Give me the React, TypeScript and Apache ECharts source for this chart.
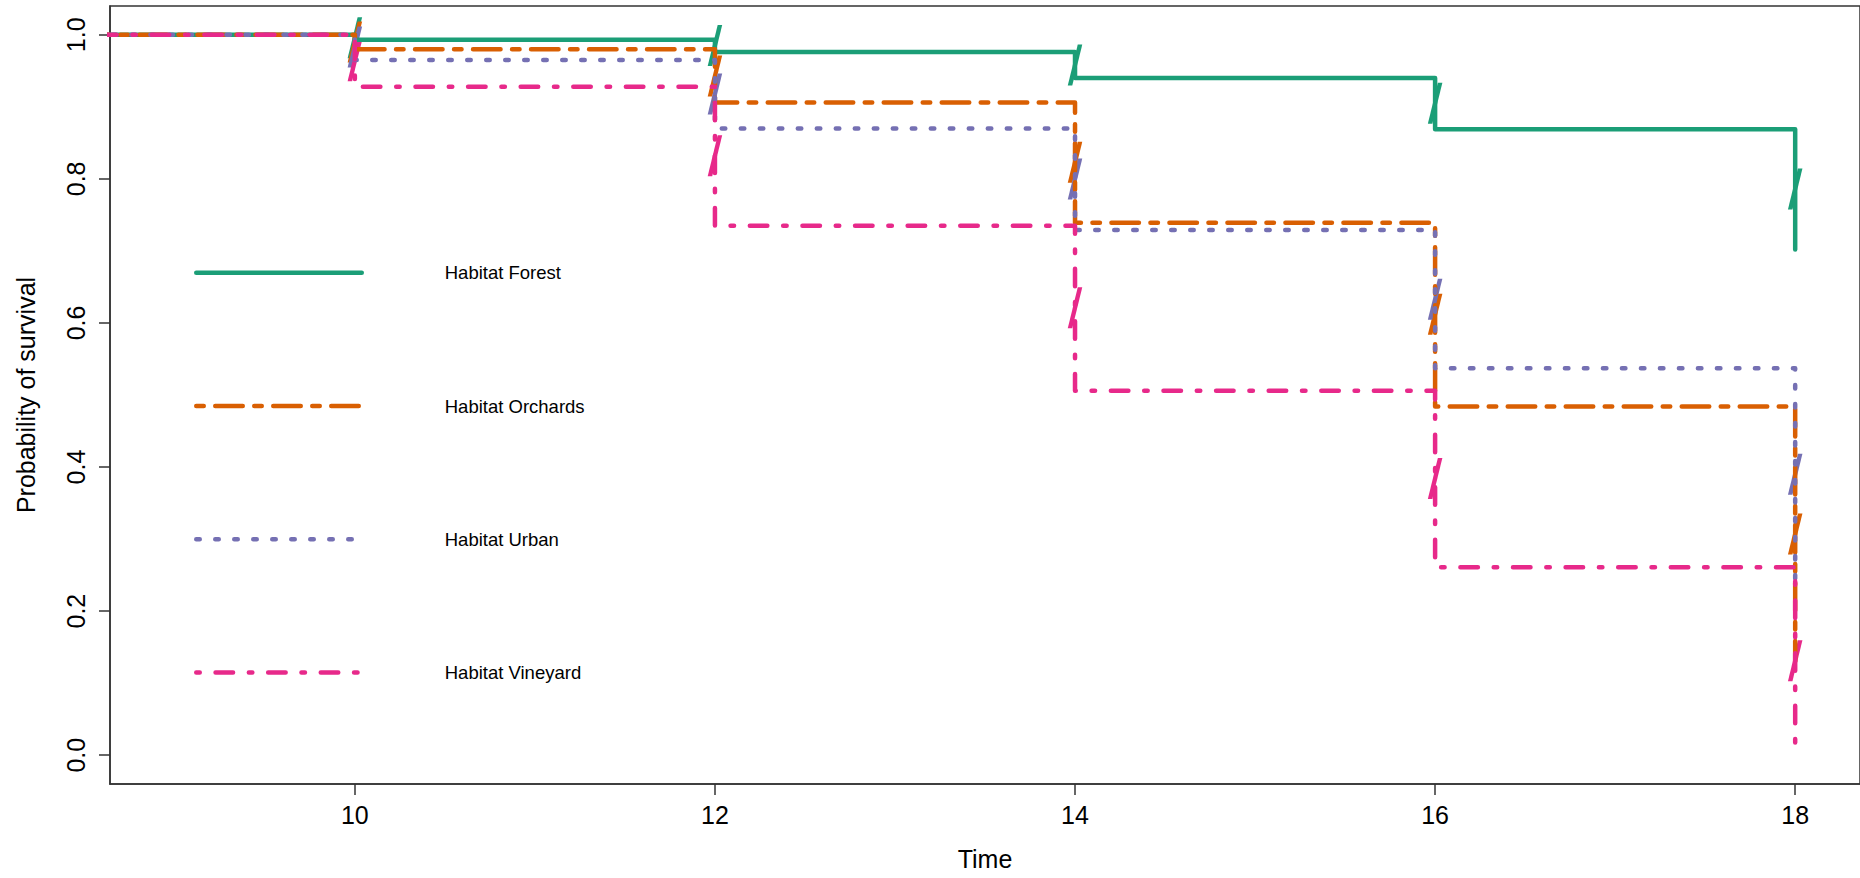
import React, { useEffect, useRef } from "react";
import * as echarts from "echarts";

// ---- data ----
const times = [0, 10, 12, 14, 16, 18];
const forest = [1, 0.993, 0.976, 0.94, 0.869, 0.702];
const orchards = [1, 0.98, 0.906, 0.739, 0.484, 0.13];
const urban = [1, 0.965, 0.87, 0.729, 0.537, 0.243];
const vineyard = [1, 0.928, 0.735, 0.506, 0.261, 0.0];

const markTimes = [10, 12, 14, 16, 18];
const forestMarks = [0.996, 0.985, 0.958, 0.905, 0.786];
const orchardsMarks = [0.99, 0.943, 0.823, 0.612, 0.307];
const urbanMarks = [0.983, 0.918, 0.8, 0.633, 0.39];
const vineyardMarks = [0.964, 0.832, 0.621, 0.384, 0.131];

const names = ["Habitat Forest", "Habitat Orchards", "Habitat Urban", "Habitat Vineyard"];
const xTicks = [10, 12, 14, 16, 18];
const yTicks = [0, 0.2, 0.4, 0.6, 0.8, 1.0];

// ---- styles ----
const colors = ["#1B9E77", "#D95F02", "#7570B3", "#E7298A"];
const dashes: any[] = ["solid", [7.5, 11.5, 27.5, 11.5], [3.5, 15.5], [3.5, 15.8, 17.5, 15.8]];
const FONT = "'Liberation Sans', Arial, sans-serif";
const LW = 4.5;
const MARK = "path://M10,0L14.5,0L4.5,41L0,41Z";

export default function App() {
  const ref = useRef<HTMLDivElement>(null);
  useEffect(() => {
    if (!ref.current) return;
    const chart = echarts.init(ref.current, undefined, { renderer: "svg" });
    const curves = [forest, orchards, urban, vineyard];
    const marks = [forestMarks, orchardsMarks, urbanMarks, vineyardMarks];
    const series: any[] = [];
    curves.forEach((vals, i) => {
      series.push({
        type: "line",
        name: names[i],
        step: "end",
        showSymbol: false,
        symbol: "none",
        clip: true,
        data: times.map((t, j) => [t, vals[j]]),
        lineStyle: { color: colors[i], width: LW, type: dashes[i], cap: "round", join: "round" },
        itemStyle: { color: colors[i] },
        silent: true,
      });
      series.push({
        type: "scatter",
        name: names[i] + " censored",
        data: markTimes.map((t, j) => [t, marks[i][j]]),
        symbol: MARK,
        symbolSize: [14.5, 41],
        itemStyle: { color: colors[i], opacity: 1 },
        silent: true,
      });
    });
    const axisColor = "#333";
    chart.setOption({
      animation: false,
      backgroundColor: "#fff",
      grid: {
        left: 110,
        top: 6,
        right: -3,
        bottom: 94,
        show: true,
        borderColor: axisColor,
        borderWidth: 1.5,
        backgroundColor: "transparent",
      },
      legend: {
        data: names,
        orient: "vertical",
        left: 189,
        top: 252.7,
        itemWidth: 165.5,
        itemHeight: 30,
        itemGap: 103.3,
        selectedMode: false,
        itemStyle: { opacity: 0 },
        lineStyle: { width: LW, cap: "round" },
        textStyle: {
          fontFamily: FONT,
          fontSize: 18.5,
          color: "#000",
          lineHeight: 20,
          padding: [10, 0, 0, 78],
        },
      },
      xAxis: {
        type: "value",
        min: 8.64,
        max: 18.36,
        name: "Time",
        nameLocation: "middle",
        nameGap: 62,
        nameTextStyle: { fontFamily: FONT, fontSize: 25, color: "#000" },
        axisLine: { show: true, onZero: false, lineStyle: { color: axisColor, width: 1.5 } },
        axisTick: { show: true, length: 11, customValues: xTicks, lineStyle: { color: axisColor, width: 1.5 } },
        axisLabel: { customValues: xTicks, fontFamily: FONT, fontSize: 25, color: "#000", margin: 18 },
        splitLine: { show: false },
      },
      yAxis: {
        type: "value",
        min: -0.04,
        max: 1.04,
        name: "Probability of survival",
        nameLocation: "middle",
        nameGap: 72,
        nameRotate: 90,
        nameTextStyle: { fontFamily: FONT, fontSize: 25, color: "#000" },
        axisLine: { show: true, onZero: false, lineStyle: { color: axisColor, width: 1.5 } },
        axisTick: { show: true, length: 11, customValues: yTicks, lineStyle: { color: axisColor, width: 1.5 } },
        axisLabel: {
          customValues: yTicks,
          rotate: 90,
          fontFamily: FONT,
          fontSize: 25,
          color: "#000",
          margin: 22,
          formatter: (v: number) => v.toFixed(1),
        },
        splitLine: { show: false },
      },
      series,
    });
    return () => chart.dispose();
  }, []);
  return (
    <div
      ref={ref}
      style={{ position: "absolute", left: 0, top: 0, width: 1860, height: 878, background: "#fff" }}
    />
  );
}
